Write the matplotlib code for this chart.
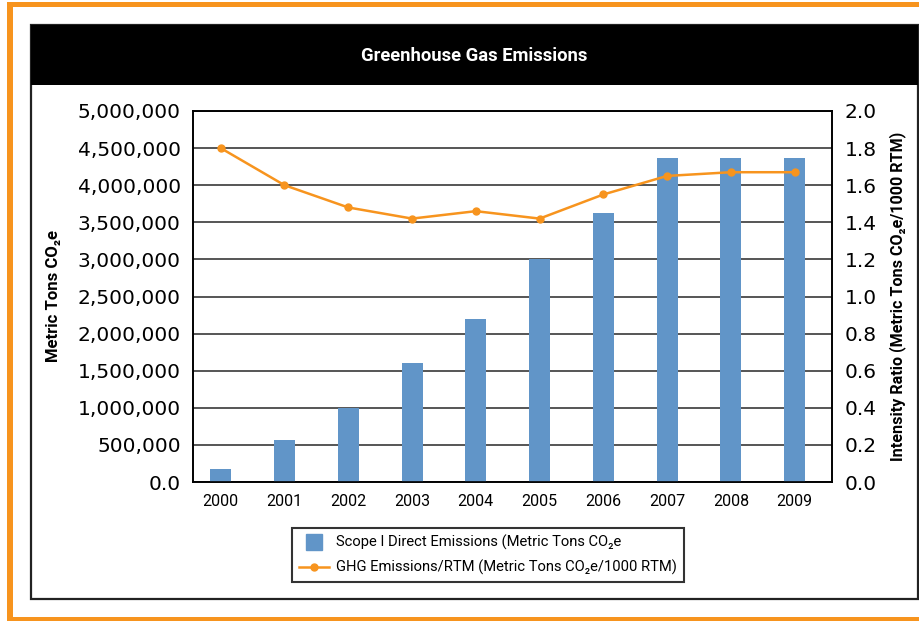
import matplotlib
matplotlib.use('Agg')
import matplotlib.pyplot as plt
from matplotlib.patches import Rectangle
from matplotlib.lines import Line2D
from matplotlib.ticker import FuncFormatter, MultipleLocator

# --- data ---
years = ['2000', '2001', '2002', '2003', '2004', '2005', '2006', '2007', '2008', '2009']
scope1_emissions = [170000, 570000, 1000000, 1600000, 2200000, 3000000, 3620000, 4370000, 4370000, 4370000]
intensity_ratio = [1.80, 1.60, 1.48, 1.42, 1.46, 1.42, 1.55, 1.65, 1.67, 1.67]

title = 'Greenhouse Gas Emissions'
left_label = 'Metric Tons CO₂e'
right_label = 'Intensity Ratio (Metric Tons CO₂e/1000 RTM)'
bar_name = 'Scope I Direct Emissions (Metric Tons CO₂e'
line_name = 'GHG Emissions/RTM (Metric Tons CO₂e/1000 RTM)'

bar_color = '#6195C8'
line_color = '#F7941E'
narrow = ['Roboto', 'DejaVu Sans']

W, H = 919, 621
fig = plt.figure(figsize=(W / 100, H / 100), dpi=100)


def px(x0, y0, x1, y1):
    # image pixel box (top-left origin) -> figure fraction rectangle
    return (x0 / W, 1 - y1 / H, (x1 - x0) / W, (y1 - y0) / H)


# orange outer border
for box in [px(7, 2, 919, 7), px(7, 2, 13, 621), px(7, 617, 919, 621)]:
    fig.add_artist(Rectangle(box[:2], box[2], box[3], transform=fig.transFigure,
                             facecolor=line_color, edgecolor='none'))

# black inner frame and title bar
fr = px(31, 25, 918, 599)
fig.add_artist(Rectangle(fr[:2], fr[2], fr[3], transform=fig.transFigure,
                         facecolor='none', edgecolor='#222222', linewidth=1.6))
tb = px(31, 25, 918, 85)
fig.add_artist(Rectangle(tb[:2], tb[2], tb[3], transform=fig.transFigure,
                         facecolor='black', edgecolor='none'))
fig.text(474.5 / W, 1 - 56 / H, title, color='white', fontsize=13.2, fontweight='bold',
         family=narrow, ha='center', va='center')

# main axes
ax1 = fig.add_axes(px(193.3, 111, 832.3, 482))
x = list(range(len(years)))
ax1.bar(x, scope1_emissions, width=0.33, color=bar_color, zorder=3)
ax1.set_xlim(-0.43, 9.59)
ax1.set_ylim(0, 5000000)
ax1.yaxis.set_major_locator(MultipleLocator(500000))
ax1.yaxis.set_major_formatter(FuncFormatter(lambda v, p: '0.0' if v == 0 else f'{v:,.0f}'))
ax1.grid(axis='y', color='#555555', linewidth=1.4, zorder=0)
ax1.set_axisbelow(True)
ax1.set_xticks(x)
ax1.set_xticklabels(years, family=narrow, fontsize=11.5)
ax1.tick_params(axis='x', length=0, pad=9)
ax1.tick_params(axis='y', length=0, pad=9, labelsize=14.5)
for s in ax1.spines.values():
    s.set_color('black')
    s.set_linewidth(1.2)
ax1.set_ylabel(left_label, family=narrow, fontsize=12, fontweight='bold', labelpad=12)

# secondary axis for intensity ratio
ax2 = ax1.twinx()
ax2.plot(x, intensity_ratio, color=line_color, linewidth=1.8, marker='o', markersize=5, zorder=4)
ax2.set_ylim(0, 2.0)
ax2.yaxis.set_major_locator(MultipleLocator(0.2))
ax2.yaxis.set_major_formatter(FuncFormatter(lambda v, p: f'{v:.1f}'))
ax2.tick_params(axis='y', length=0, pad=9, labelsize=14.5)
for s in ax2.spines.values():
    s.set_color('black')
    s.set_linewidth(1.2)
ax2.set_ylabel(right_label, family=narrow, fontsize=11.6, fontweight='bold', labelpad=9)

# legend below the axes
handles = [Line2D([], [], marker='s', markersize=12, color=bar_color, linestyle='none'),
           Line2D([], [], marker='o', markersize=5, color=line_color, linewidth=1.8)]
leg = fig.legend(handles, [bar_name, line_name], loc='center',
                 bbox_to_anchor=(488 / W, 1 - 555 / H), frameon=True, fancybox=False,
                 prop={'family': narrow, 'size': 10.6}, handlelength=2.0, borderpad=0.5,
                 labelspacing=0.65, handletextpad=0.5)
leg.get_frame().set_edgecolor('black')
leg.get_frame().set_linewidth(1.5)

fig.savefig('out.png', dpi=100)
